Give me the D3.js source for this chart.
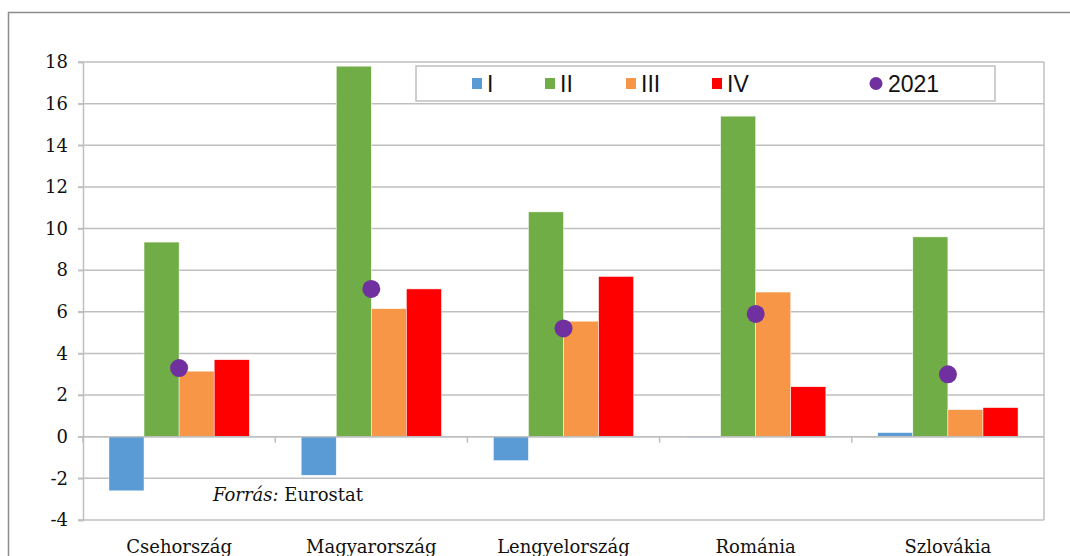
<!DOCTYPE html>
<html>
<head>
<meta charset="utf-8">
<script src="https://cdn.jsdelivr.net/npm/d3@7"></script>
<style>
  body { margin: 0; background: #fff; }
  svg { display: block; }
</style>
</head>
<body>
<svg id="chart"></svg>
<script>
const countries = ["Csehország", "Magyarország", "Lengyelország", "Románia", "Szlovákia"];
const seriesNames = ["I", "II", "III", "IV"];
const valI = [-2.6, -1.85, -1.15, -0.05, 0.2];
const valII = [9.35, 17.8, 10.8, 15.4, 9.6];
const valIII = [3.15, 6.15, 5.55, 6.95, 1.3];
const valIV = [3.7, 7.1, 7.7, 2.4, 1.4];
const val2021 = [3.3, 7.1, 5.2, 5.9, 3.0];
const yTicks = [-4, -2, 0, 2, 4, 6, 8, 10, 12, 14, 16, 18];
const colors = ["#5b9bd5", "#70ad47", "#f79646", "#ff0000"];
const dotColor = "#7030a0";

const W = 1070, H = 556;
const margin = { top: 62, right: 26, bottom: 36, left: 83 };
const width = W - margin.left - margin.right;
const height = H - margin.top - margin.bottom;

const svg = d3.select("#chart").attr("width", W).attr("height", H);

// outer frame
svg.append("path")
    .attr("d", `M8.5,${H + 2} V12.5 H${W + 2}`)
    .attr("fill", "none")
    .attr("stroke", "#8c8c8c")
    .attr("stroke-width", 1.5);

const g = svg.append("g").attr("transform", `translate(${margin.left},${margin.top})`);

const y = d3.scaleLinear().domain([-4, 18]).range([height, 0]);
const x0 = d3.scaleBand().domain(countries).range([0, width]).paddingInner(0.27).paddingOuter(0.135);
const x1 = d3.scaleBand().domain(seriesNames).range([0, x0.bandwidth()]);
const xCat = d3.scaleBand().domain(countries).range([0, width]);

const seriesVals = [valI, valII, valIII, valIV];
const serif = "'DejaVu Serif', serif";

// grid lines
g.selectAll("line.grid")
    .data(yTicks)
    .enter().append("line")
    .attr("x1", -5).attr("x2", width)
    .attr("y1", d => y(d)).attr("y2", d => y(d))
    .attr("stroke", "#bfbfbf")
    .attr("stroke-width", 1.5);

// right border
g.append("line")
    .attr("x1", width).attr("x2", width)
    .attr("y1", 0).attr("y2", height)
    .attr("stroke", "#bfbfbf").attr("stroke-width", 1.5);

// y axis
const yAxis = g.append("g")
    .call(d3.axisLeft(y).tickValues(yTicks).tickFormat(d => String(d)).tickSize(5).tickPadding(10));
yAxis.select(".domain").attr("stroke", "#bfbfbf").attr("stroke-width", 1.5);
yAxis.selectAll(".tick line").attr("stroke", "#bfbfbf").attr("stroke-width", 1.5);
yAxis.selectAll(".tick text")
    .attr("font-family", serif)
    .attr("font-size", "18px")
    .attr("fill", "#111");

// bars
seriesVals.forEach((vals, si) => {
    g.selectAll(`rect.s${si}`)
        .data(vals)
        .enter().append("rect")
        .attr("x", (d, i) => x0(countries[i]) + x1(seriesNames[si]))
        .attr("y", d => y(Math.max(0, d)))
        .attr("width", x1.bandwidth())
        .attr("height", d => Math.abs(y(d) - y(0)))
        .attr("fill", colors[si])
        .attr("stroke", "#fff")
        .attr("stroke-width", 0.5);
});

// zero axis + category ticks
g.append("line")
    .attr("x1", 0).attr("x2", width)
    .attr("y1", y(0)).attr("y2", y(0))
    .attr("stroke", "#bfbfbf").attr("stroke-width", 1.5);
g.selectAll("line.cattick")
    .data(countries)
    .enter().append("line")
    .attr("x1", d => xCat(d)).attr("x2", d => xCat(d))
    .attr("y1", y(0)).attr("y2", y(0) + 6)
    .attr("stroke", "#bfbfbf").attr("stroke-width", 1.5);

// 2021 dots
g.selectAll("circle.dot")
    .data(val2021)
    .enter().append("circle")
    .attr("cx", (d, i) => xCat(countries[i]) + xCat.bandwidth() / 2)
    .attr("cy", d => y(d))
    .attr("r", 9)
    .attr("fill", dotColor);

// category labels
g.selectAll("text.cat")
    .data(countries)
    .enter().append("text")
    .attr("x", d => xCat(d) + xCat.bandwidth() / 2)
    .attr("y", height + 33)
    .attr("text-anchor", "middle")
    .attr("font-family", serif)
    .attr("font-size", "18px")
    .attr("fill", "#111")
    .text(d => d);

// source note
const src = g.append("text")
    .attr("x", 130).attr("y", y(-3.1))
    .attr("font-family", serif)
    .attr("font-size", "18px")
    .attr("fill", "#111");
src.append("tspan").attr("font-style", "italic").text("Forrás:");
src.append("tspan").text(" Eurostat");

// legend
const lg = svg.append("g").attr("transform", "translate(416,66)");
lg.append("rect")
    .attr("width", 579).attr("height", 35)
    .attr("fill", "#fff")
    .attr("stroke", "#bfbfbf").attr("stroke-width", 1.5);
const legendItems = [
    { name: "I", x: 56, color: colors[0], type: "sq" },
    { name: "II", x: 129, color: colors[1], type: "sq" },
    { name: "III", x: 210, color: colors[2], type: "sq" },
    { name: "IV", x: 296, color: colors[3], type: "sq" },
    { name: "2021", x: 454, color: dotColor, type: "dot" }
];
legendItems.forEach(it => {
    if (it.type === "sq") {
        lg.append("rect").attr("x", it.x).attr("y", 12).attr("width", 10).attr("height", 11).attr("fill", it.color);
    } else {
        lg.append("circle").attr("cx", it.x + 6).attr("cy", 17.5).attr("r", 6.5).attr("fill", it.color);
    }
    lg.append("text")
        .attr("x", it.x + (it.type === "sq" ? 15 : 18))
        .attr("y", 26)
        .attr("font-family", "'Liberation Sans', Arial, sans-serif")
        .attr("font-size", "23px")
        .attr("fill", "#111")
        .text(it.name);
});
</script>
</body>
</html>
